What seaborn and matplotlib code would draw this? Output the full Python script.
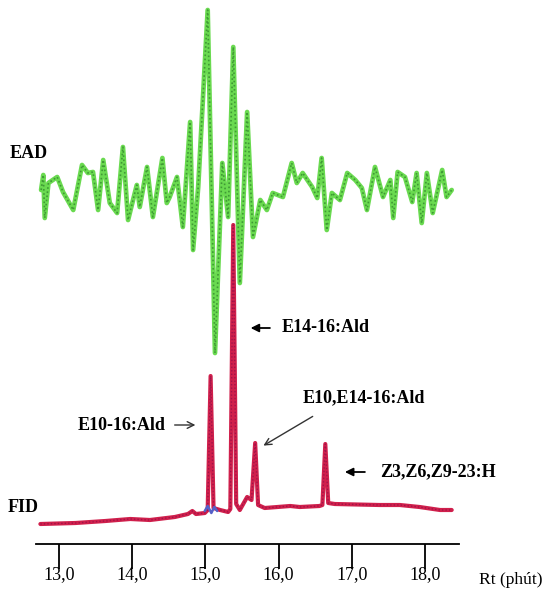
import numpy as np
import seaborn as sns
import matplotlib.pyplot as plt

# EAD trace (retention time in min, response relative to its baseline)
ead_time = [12.75, 12.78, 12.80, 12.85, 12.97, 13.05, 13.19, 13.31, 13.39, 13.46,
            13.53, 13.60, 13.69, 13.79, 13.87, 13.94, 14.06, 14.10, 14.20, 14.28,
            14.41, 14.47, 14.51, 14.61, 14.69, 14.79, 14.83, 14.90, 15.03, 15.13,
            15.23, 15.31, 15.38, 15.47, 15.57, 15.65, 15.75, 15.84, 15.92, 16.06,
            16.18, 16.25, 16.33, 16.46, 16.53, 16.59, 16.66, 16.73, 16.84, 16.94,
            17.05, 17.14, 17.21, 17.32, 17.43, 17.53, 17.57, 17.63, 17.73, 17.83,
            17.89, 17.96, 18.03, 18.11, 18.24, 18.30, 18.37]
ead_signal = [0, 15, -28, 7, 13, -2, -20, 25, 17, 18,
              -20, 30, -13, -23, 43, -30, 5, -17, 23, -27,
              32, -13, -7, 13, -37, 68, -60, 3, 180, -163,
              27, -27, 143, -93, 78, -47, -10, -20, -3, -7,
              27, 7, 17, 3, -8, 32, -40, -3, -10, 17,
              10, 2, -20, 23, -7, 10, -28, 18, 13, -12,
              17, -33, 17, -23, 20, -7, 0]
ead_offset = 354

# FID trace
fid_time = [12.74, 13.22, 13.63, 13.97, 14.24, 14.58, 14.76, 14.82, 14.87, 14.99,
            15.03, 15.07, 15.11, 15.20, 15.31, 15.34, 15.38, 15.42, 15.47, 15.57,
            15.63, 15.68, 15.72, 15.81, 16.16, 16.29, 16.56, 16.60, 16.64, 16.68,
            16.77, 17.38, 17.66, 17.93, 18.21, 18.37]
fid_signal = [20, 21, 23, 25, 24, 27, 30, 33, 30, 31,
              34, 168, 36, 34, 32, 35, 319, 40, 34, 47,
              44, 101, 39, 36, 38, 37, 38, 39, 100, 41,
              40, 39, 39, 37, 34, 34]

# small blue trace under the first peak
blue_time = [14.99, 15.03, 15.08, 15.12, 15.16]
blue_signal = [33, 38, 31, 37, 33]

tick_pos = [13, 14, 15, 16, 17, 18]
tick_labels = ['13,0', '14,0', '15,0', '16,0', '17,0', '18,0']

sns.set_style('white')
plt.rcParams['font.family'] = ['Liberation Serif', 'DejaVu Serif']
plt.rcParams['text.color'] = 'black'

W, H = 544, 597
fig = plt.figure(figsize=(W / 100, H / 100), dpi=100)
ax = fig.add_axes([36 / W, (H - 544) / H, (459 - 36) / W, 544 / H])

ead_y = np.array(ead_signal) + ead_offset
sns.lineplot(x=ead_time, y=ead_y, ax=ax, color='#6ada50', lw=3.4,
             estimator=None, sort=False, zorder=2)
sns.lineplot(x=ead_time, y=ead_y, ax=ax, color='#3f9a35', lw=1.2,
             linestyle=(0, (1, 1.5)), estimator=None, sort=False, zorder=3)

sns.lineplot(x=fid_time, y=fid_signal, ax=ax, color='#d0204c', lw=3.0,
             estimator=None, sort=False, zorder=4)
sns.lineplot(x=fid_time, y=fid_signal, ax=ax, color='#a0124a', lw=1.0,
             linestyle=(0, (1, 1.5)), estimator=None, sort=False, zorder=5)
sns.lineplot(x=blue_time, y=blue_signal, ax=ax, color='#5560c8', lw=1.8,
             estimator=None, sort=False, zorder=6)

ax.set_xlim(12.68, 18.47)
ax.set_ylim(0, 544)
ax.set_xticks(tick_pos)
ax.set_xticklabels(tick_labels, fontsize=13, color='black')
ax.set_yticks([])
ax.set_xlabel('')
ax.set_ylabel('')
for s in ['left', 'right', 'top']:
    ax.spines[s].set_visible(False)
ax.spines['bottom'].set_linewidth(1.3)
ax.spines['bottom'].set_color('black')
ax.tick_params(axis='x', direction='out', length=18, width=1.3, color='black', pad=-2,
               bottom=True)

lab = dict(fontsize=13, fontweight='bold', va='center', color='black')
fig.text(10 / W, 1 - 153 / H, 'EAD', ha='left', **lab)
fig.text(8 / W, 1 - 507 / H, 'FID', ha='left', **lab)
fig.text(479 / W, 1 - 580 / H, 'Rt (phút)', fontsize=12.6, ha='left', va='center',
         color='black')

filled = dict(arrowstyle='-|>', color='black', lw=1.3, mutation_scale=12)
open_head = dict(arrowstyle='->', color='#333333', lw=1.0, mutation_scale=12)

ax.annotate('', xy=(15.58, 216), xytext=(15.92, 216), arrowprops=filled)
ax.text(16.04, 216, 'E14-16:Ald', ha='left', **lab)

ax.annotate('', xy=(15.76, 97), xytext=(16.50, 129), arrowprops=open_head)
ax.text(16.33, 146, 'E10,E14-16:Ald', ha='left', **lab)

ax.annotate('', xy=(14.90, 119), xytext=(14.54, 119), arrowprops=open_head)
ax.text(14.45, 119, 'E10-16:Ald', ha='right', **lab)

ax.annotate('', xy=(16.87, 72), xytext=(17.22, 72), arrowprops=filled)
ax.text(17.39, 72, 'Z3,Z6,Z9-23:H', ha='left', **lab)

fig.savefig('out.png', dpi=100)
